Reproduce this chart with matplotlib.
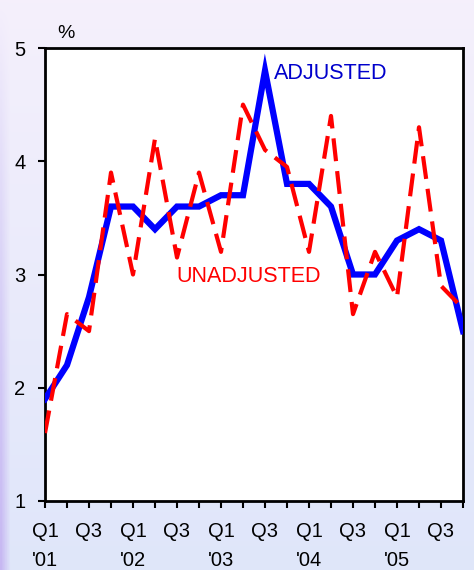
import numpy as np
import matplotlib
matplotlib.use("Agg")
import matplotlib.pyplot as plt

plt.rcParams['font.family'] = ['Liberation Sans', 'DejaVu Sans']

# quarterly rates, Q1 2001 .. Q4 2005
quarters = list(range(20))
adjusted = [1.9, 2.2, 2.8, 3.6, 3.6, 3.4, 3.6, 3.6, 3.7, 3.7,
            4.8, 3.8, 3.8, 3.6, 3.0, 3.0, 3.3, 3.4, 3.3, 2.5]
unadjusted = [1.6, 2.65, 2.5, 3.9, 3.0, 4.2, 3.15, 3.9, 3.2, 4.5,
              4.1, 3.95, 3.2, 4.4, 2.65, 3.2, 2.8, 4.3, 2.9, 2.7]
tick_labels = ["Q1\n'01", "Q3", "Q1\n'02", "Q3", "Q1\n'03", "Q3",
               "Q1\n'04", "Q3", "Q1\n'05", "Q3"]

fig = plt.figure(figsize=(4.74, 5.70), dpi=100)

# lavender gradient behind everything
bg = fig.add_axes([0, 0, 1, 1], zorder=-1)
vert = np.linspace(0, 1, 200)[:, None] * np.ones((1, 200))
horiz = np.ones((200, 1)) * np.linspace(0, 1, 200)[None, :]
edge = np.clip(1 - horiz / 0.02, 0, 1) * vert
top_c = np.array([0.961, 0.941, 0.988])
bot_c = np.array([0.875, 0.902, 0.980])
strip_c = np.array([0.780, 0.720, 0.950])
img = top_c[None, None, :] * (1 - vert[..., None]) + bot_c[None, None, :] * vert[..., None]
img = img * (1 - edge[..., None]) + strip_c[None, None, :] * edge[..., None]
bg.imshow(img, aspect='auto', extent=[0, 1, 0, 1], origin='upper')
bg.axis('off')

ax = fig.add_axes([45 / 474, 69 / 570, 418 / 474, 453 / 570])
ax.set_facecolor('white')

ax.plot(quarters, adjusted, color='#0000ff', lw=4.5, solid_joinstyle='miter', zorder=3)
ax.plot(quarters, unadjusted, color='#ff0000', lw=3, dashes=(5.5, 2.4), zorder=4)

ax.set_xlim(0, 19)
ax.set_ylim(1, 5)
ax.set_yticks([1, 2, 3, 4, 5])
ax.set_xticks(quarters, minor=True)
ax.set_xticks(quarters[::2])
ax.set_xticklabels(tick_labels, linespacing=1.65)
ax.tick_params(axis='both', which='both', direction='out', length=5, width=1.5,
               labelsize=14.5, colors='black')
ax.tick_params(axis='y', pad=9)
ax.tick_params(axis='x', pad=10)
for s in ax.spines.values():
    s.set_linewidth(2)
    s.set_color('black')

ax.text(10.4, 4.73, 'ADJUSTED', color='#0000cc', fontsize=15.5)
ax.text(5.95, 2.93, 'UNADJUSTED', color='#ff0000', fontsize=15.5)
fig.text(57 / 474, 1 - 33 / 570, '%', fontsize=14, va='center')

fig.savefig('out.png', dpi=100)
